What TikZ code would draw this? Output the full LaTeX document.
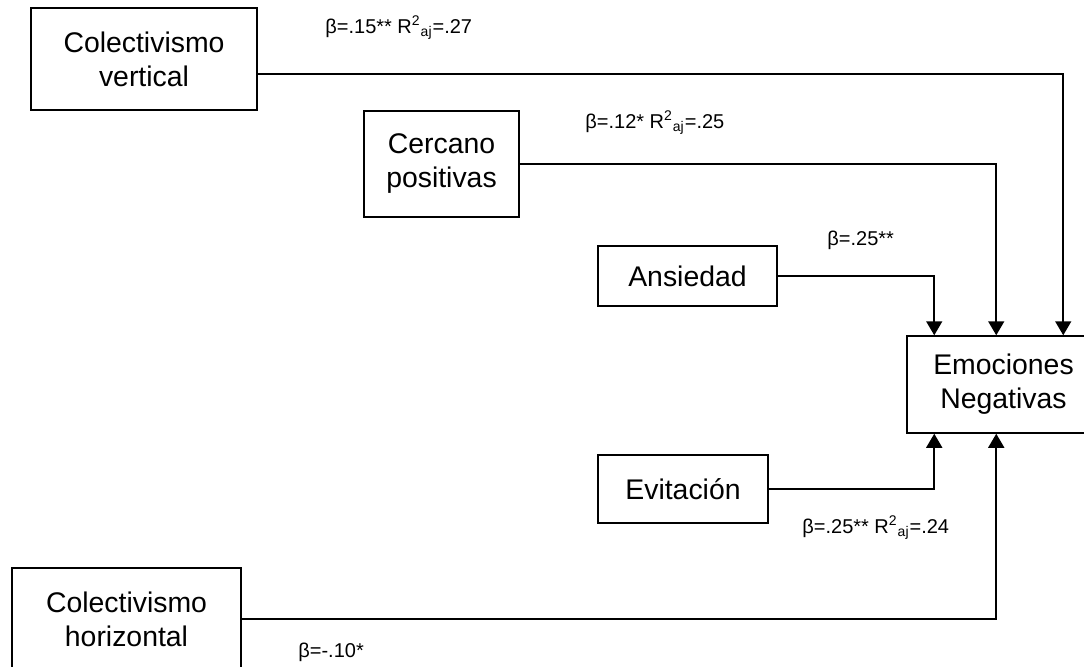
\documentclass[tikz,border=0pt]{standalone}
\usepackage{fontspec}
\setmainfont{Liberation Sans}
\usetikzlibrary{arrows.meta,calc}

\begin{document}
\begin{tikzpicture}[x=0.5pt,y=-0.5pt,
        var/.style={draw,line width=0.75pt,align=center,inner sep=0pt,
            font=\fontsize{14.2pt}{17pt}\selectfont},
        path/.style={line width=0.8pt,-{Triangle[length=7pt,width=8pt]}},
        coef/.style={anchor=base west,inner sep=0pt,
            font=\fontsize{10pt}{12pt}\selectfont}]
                \useasboundingbox (0,0) rectangle (1084,666);
                % variables
                \node[var,minimum width=113pt,minimum height=51pt] (CV) at (144,59) {Colectivismo\\vertical};
                \node[var,minimum width=77.5pt,minimum height=53pt] (CP) at (441.5,164) {Cercano\\positivas};
                \node[var,minimum width=89.5pt,minimum height=30pt] (AN) at (687.5,276) {Ansiedad};
                \node[var,minimum width=96.5pt,minimum height=48.5pt] (EN) at (1003.5,384.5) {Emociones\\Negativas};
                \node[var,minimum width=85pt,minimum height=34pt] (EV) at (683,489) {Evitación};
                \node[var,minimum width=114.5pt,minimum height=51pt] (CH) at (126.5,619) {Colectivismo\\horizontal};
                % paths
                \draw[path] ([yshift=-7.5pt]CV.east) -| ([xshift=78.5pt]EN.north west);
                \draw[path] (CP.east) -| ([xshift=45pt]EN.north west);
                \draw[path] (AN.east) -| ([xshift=14pt]EN.north west);
                \draw[path] (EV.east) -| ([xshift=14pt]EN.south west);
                \draw[path] (CH.east) -| ([xshift=45pt]EN.south west);
                % coefficients
                \node[coef] (b1) at (325,33) {β=.15** R\textsuperscript{2}\textsubscript{aj}=.27};
                \node[coef] (b2) at (585,128) {β=.12* R\textsuperscript{2}\textsubscript{aj}=.25};
                \node[coef] (b3) at (827,245) {β=.25**};
                \node[coef] (b4) at (802,533) {β=.25** R\textsuperscript{2}\textsubscript{aj}=.24};
                \node[coef] (b5) at (298,657) {β=-.10*};
            \end{tikzpicture}
\end{document}
